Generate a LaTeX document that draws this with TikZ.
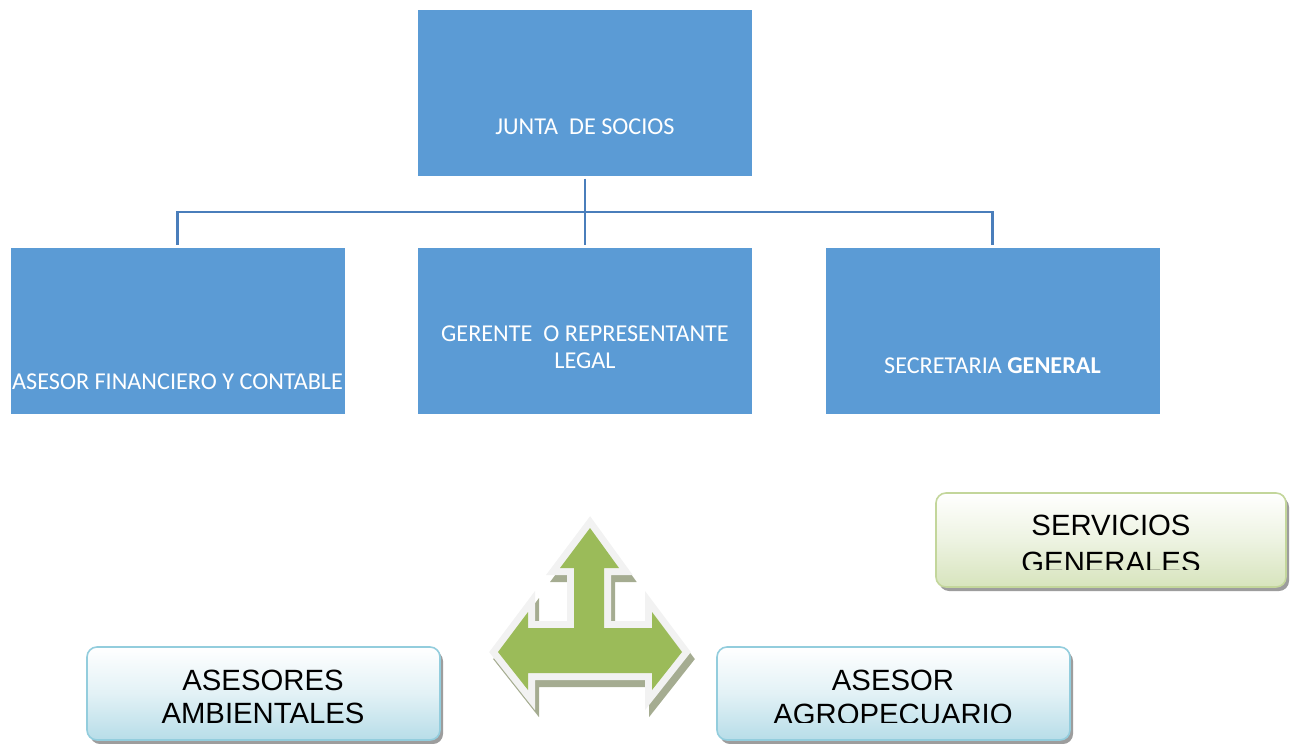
\documentclass[tikz,border=0pt]{standalone}
\usepackage{fontspec}
\setmainfont{Liberation Sans}
\newfontfamily\calfont{Carlito}
\usetikzlibrary{shadows}
\definecolor{boxblue}{RGB}{91,155,213}
\definecolor{connblue}{RGB}{74,126,187}
\definecolor{arrgreen}{RGB}{155,187,89}
\definecolor{arrwhite}{RGB}{242,242,242}
\definecolor{arrshadow}{RGB}{165,172,145}
\definecolor{rbblue}{RGB}{147,205,221}
\definecolor{rbbluefill}{RGB}{183,221,232}
\definecolor{rbgreen}{RGB}{195,214,155}
\definecolor{rbgreenfill}{RGB}{215,228,189}
\begin{document}
\begin{tikzpicture}[x=1pt,y=-1pt,
  orgbox/.style={fill=boxblue, draw=none, inner sep=0, minimum width=334pt, minimum height=166pt},
  orgtext/.style={text=white, font=\calfont\fontsize{24.2}{29}\selectfont, inner sep=0, anchor=base},
  conn/.style={draw=connblue, line width=2.6pt},
  rbox/.style={rounded corners=10pt, line width=1.6pt, inner sep=0,
    drop shadow={shadow xshift=3pt, shadow yshift=-4pt, opacity=0.55, fill=black!70}},
  rblue/.style={rbox, draw=rbblue, top color=white, bottom color=rbbluefill, middle color=rbbluefill!40},
  rgreen/.style={rbox, draw=rbgreen, top color=white, bottom color=rbgreenfill, middle color=rbgreenfill!45},
  rtext/.style={font=\fontsize{29.3}{33}\selectfont, inner sep=0, anchor=base, text=black}
]
\useasboundingbox (0,0) rectangle (1291,744);

% top level boxes
\node[orgbox] (junta) at (585,92.5) {};
\node[orgbox] (fin) at (177.5,331) {};
\node[orgbox] (ger) at (585,331) {};
\node[orgbox] (sec) at (992.5,331) {};

\node[orgtext] (tjunta) at (585,134) {JUNTA\ \ DE SOCIOS};
\node[orgtext, anchor=base west] (tfin) at (12,389) {ASESOR FINANCIERO Y CONTABLE};
\node[orgtext] (tger1) at (585,341) {GERENTE\ \ O REPRESENTANTE};
\node[orgtext] (tger2) at (585,368) {LEGAL};
\node[orgtext] (tsec) at (992.5,373) {SECRETARIA \textbf{GENERAL}};

% connectors
\coordinate (hub) at (585,212);
\draw[conn, shorten <=3pt, shorten >=3pt] (junta.south) -- (ger.north);
\draw[conn, shorten >=3pt] (hub) -| (fin.north);
\draw[conn, shorten >=3pt] (hub) -| (sec.north);

% green three-way arrow
\def\arrowpath{(590,528) -- (619,568) -- (604,568) -- (604,628) -- (652,628) -- (652,612) -- (682,652) -- (652,690) -- (652,673) -- (528,673) -- (528,690) -- (498,652) -- (528,612) -- (528,628) -- (574,628) -- (574,568) -- (560,568) -- cycle}
\begin{scope}[shift={(4,7)}]
  \filldraw[fill=arrshadow, draw=arrshadow, line width=14pt, line join=miter] \arrowpath;
\end{scope}
\draw[arrwhite, line width=14pt, line join=miter] \arrowpath;
\fill[arrgreen] \arrowpath;

% rounded boxes
\node[rgreen, minimum width=350pt, minimum height=94pt] (serv) at (1111,540) {};
\node[rblue, minimum width=353pt, minimum height=93pt] (amb) at (263.5,693.5) {};
\node[rblue, minimum width=353pt, minimum height=93pt] (agro) at (893.5,693.5) {};

\node[rtext] (tserv1) at (1111,535) {SERVICIOS};
\begin{scope}
  \clip (940,500) rectangle (1280,569.5);
  \node[rtext] (tserv2) at (1111,572) {GENERALES};
\end{scope}
\node[rtext] (tamb1) at (263,690) {ASESORES};
\node[rtext] (tamb2) at (263,723) {AMBIENTALES};
\node[rtext] (tagro1) at (893,690) {ASESOR};
\begin{scope}
  \clip (720,695) rectangle (1065,722.5);
  \node[rtext] (tagro2) at (893,724) {AGROPECUARIO};
\end{scope}
\end{tikzpicture}
\end{document}
